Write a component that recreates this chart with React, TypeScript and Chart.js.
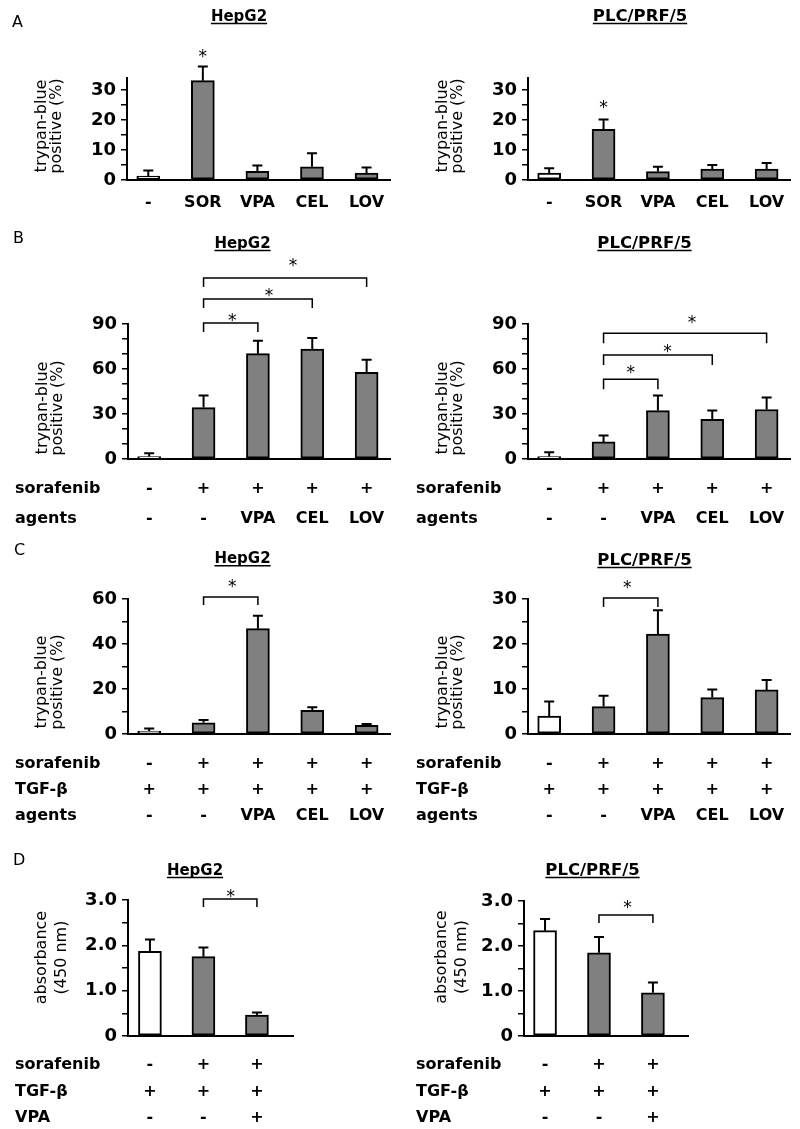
import React, { useEffect, useRef } from 'react';
import { Chart, registerables } from 'chart.js';

Chart.register(...registerables);

// ---------------- data ----------------
const TREATMENTS_A = ['-', 'SOR', 'VPA', 'CEL', 'LOV'];
const A_HEPG2_MEAN = [1.3, 33.1, 2.9, 4.4, 2.3];
const A_HEPG2_SD = [1.9, 4.7, 1.9, 4.5, 1.9];
const A_PLC_MEAN = [2.3, 16.9, 2.8, 3.6, 3.6];
const A_PLC_SD = [1.6, 3.3, 1.6, 1.4, 2.1];
const A_SIGNIFICANT = [1];
const A_Y_LABELS = [0, 10, 20, 30];

const SORAFENIB_5 = ['-', '+', '+', '+', '+'];
const TGFB_5 = ['+', '+', '+', '+', '+'];
const AGENTS_5 = ['-', '-', 'VPA', 'CEL', 'LOV'];

const B_HEPG2_MEAN = [1.6, 34.3, 70.2, 73.3, 57.7];
const B_HEPG2_SD = [2.2, 8.0, 8.6, 7.3, 8.4];
const B_PLC_MEAN = [1.6, 11.4, 32.3, 26.5, 33.0];
const B_PLC_SD = [2.9, 4.2, 10.0, 5.8, 8.0];
const B_HEPG2_BRACKETS = [[1, 4, 120.7], [1, 3, 106.7], [1, 2, 90.7]];
const B_PLC_BRACKETS = [[1, 4, 83.8], [1, 3, 69.3], [1, 2, 53.1]];
const B_Y_LABELS = [0, 30, 60, 90];

const C_HEPG2_MEAN = [1.3, 5.0, 46.8, 10.5, 3.9];
const C_HEPG2_SD = [1.2, 1.2, 5.8, 1.4, 0.6];
const C_PLC_MEAN = [4.0, 6.1, 22.2, 8.1, 9.8];
const C_PLC_SD = [3.2, 2.4, 5.3, 1.8, 2.2];
const C_HEPG2_BRACKETS = [[1, 2, 60.9]];
const C_PLC_BRACKETS = [[1, 2, 30.2]];
const C_HEPG2_Y_LABELS = [0, 20, 40, 60];
const C_PLC_Y_LABELS = [0, 10, 20, 30];

const SORAFENIB_3 = ['-', '+', '+'];
const TGFB_3 = ['+', '+', '+'];
const VPA_3 = ['-', '-', '+'];
const D_HEPG2_MEAN = [1.87, 1.75, 0.46];
const D_HEPG2_SD = [0.26, 0.2, 0.06];
const D_PLC_MEAN = [2.34, 1.85, 0.96];
const D_PLC_SD = [0.26, 0.35, 0.23];
const D_HEPG2_BRACKETS = [[1, 2, 3.02]];
const D_PLC_BRACKETS = [[1, 2, 2.69]];
const D_Y_LABELS = [0, 1, 2, 3];

// ---------------- styling ----------------
const FONT = '"DejaVu Sans", "Liberation Sans", sans-serif';
const GRAY = '#808080';
const TRYPAN = ['trypan-blue', 'positive (%)'];
const ABSORB = ['absorbance', '(450 nm)'];

const fmtInt = (v: number) => String(v);
const fmtDec = (v: number) => (v === 0 ? '0' : v.toFixed(1));

type Row = { name: string; labels: string[]; y: number };
type Panel = {
  left: number; top: number; w: number; h: number;
  area: { l: number; t: number; r: number; b: number };
  xMin: number; xMax: number;
  yMax: number; step: number; yLabels: number[]; fmt: (v: number) => string;
  means: number[]; sd: number[];
  letter?: { text: string; x: number; y: number };
  title: { text: string; x: number; y: number; size: number };
  yTitle: { lines: string[]; xs: number[]; y: number };
  rows: Row[]; rowX: number;
  stars?: number[]; starGap?: number;
  brackets?: number[][]; bGap?: number[]; bDx?: number[]; drop?: number;
};

const panels: Panel[] = [
  {
    left: 0, top: 0, w: 400, h: 210, area: { l: 127, t: 78, r: 390, b: 180 },
    xMin: -0.39, xMax: 4.43, yMax: 34, step: 5, yLabels: A_Y_LABELS, fmt: fmtInt,
    means: A_HEPG2_MEAN, sd: A_HEPG2_SD,
    letter: { text: 'A', x: 12, y: 27 },
    title: { text: 'HepG2', x: 239, y: 21, size: 15 },
    yTitle: { lines: TRYPAN, xs: [42, 57], y: 126 },
    rows: [{ name: '', labels: TREATMENTS_A, y: 207 }], rowX: 15,
    stars: A_SIGNIFICANT, starGap: 15,
  },
  {
    left: 400, top: 0, w: 400, h: 210, area: { l: 128, t: 78, r: 390, b: 180 },
    xMin: -0.39, xMax: 4.43, yMax: 34, step: 5, yLabels: A_Y_LABELS, fmt: fmtInt,
    means: A_PLC_MEAN, sd: A_PLC_SD,
    title: { text: 'PLC/PRF/5', x: 240, y: 21, size: 16.5 },
    yTitle: { lines: TRYPAN, xs: [43, 58], y: 126 },
    rows: [{ name: '', labels: TREATMENTS_A, y: 207 }], rowX: 16,
    stars: A_SIGNIFICANT, starGap: 16,
  },
  {
    left: 0, top: 210, w: 400, h: 330, area: { l: 128, t: 114, r: 390, b: 249 },
    xMin: -0.39, xMax: 4.43, yMax: 90, step: 10, yLabels: B_Y_LABELS, fmt: fmtInt,
    means: B_HEPG2_MEAN, sd: B_HEPG2_SD,
    letter: { text: 'B', x: 13, y: 33 },
    title: { text: 'HepG2', x: 242.5, y: 38, size: 15 },
    yTitle: { lines: TRYPAN, xs: [43, 58], y: 198 },
    rows: [
      { name: 'sorafenib', labels: SORAFENIB_5, y: 282.7 },
      { name: 'agents', labels: AGENTS_5, y: 312.7 },
    ], rowX: 15,
    brackets: B_HEPG2_BRACKETS, bGap: [16.6, 7.6, 7.3], bDx: [8, 11, 1.5], drop: 9,
  },
  {
    left: 400, top: 210, w: 400, h: 330, area: { l: 128, t: 114, r: 390, b: 249 },
    xMin: -0.39, xMax: 4.43, yMax: 90, step: 10, yLabels: B_Y_LABELS, fmt: fmtInt,
    means: B_PLC_MEAN, sd: B_PLC_SD,
    title: { text: 'PLC/PRF/5', x: 244.5, y: 38, size: 16.5 },
    yTitle: { lines: TRYPAN, xs: [43, 58], y: 198 },
    rows: [
      { name: 'sorafenib', labels: SORAFENIB_5, y: 282.7 },
      { name: 'agents', labels: AGENTS_5, y: 312.7 },
    ], rowX: 16,
    brackets: B_PLC_BRACKETS, bGap: [15.3, 8.3, 11], bDx: [7, 9.5, 0], drop: 10,
  },
  {
    left: 0, top: 540, w: 400, h: 310, area: { l: 128, t: 59, r: 390, b: 194 },
    xMin: -0.39, xMax: 4.43, yMax: 60, step: 10, yLabels: C_HEPG2_Y_LABELS, fmt: fmtInt,
    means: C_HEPG2_MEAN, sd: C_HEPG2_SD,
    letter: { text: 'C', x: 14, y: 15 },
    title: { text: 'HepG2', x: 242.5, y: 23.3, size: 15 },
    yTitle: { lines: TRYPAN, xs: [42, 58], y: 142 },
    rows: [
      { name: 'sorafenib', labels: SORAFENIB_5, y: 228.3 },
      { name: 'TGF-β', labels: TGFB_5, y: 254.3 },
      { name: 'agents', labels: AGENTS_5, y: 280 },
    ], rowX: 15,
    brackets: C_HEPG2_BRACKETS, bGap: [15], bDx: [1.5], drop: 8,
  },
  {
    left: 400, top: 540, w: 400, h: 310, area: { l: 128, t: 59, r: 390, b: 194 },
    xMin: -0.39, xMax: 4.43, yMax: 30, step: 5, yLabels: C_PLC_Y_LABELS, fmt: fmtInt,
    means: C_PLC_MEAN, sd: C_PLC_SD,
    title: { text: 'PLC/PRF/5', x: 244.5, y: 25, size: 16.5 },
    yTitle: { lines: TRYPAN, xs: [43, 58], y: 142 },
    rows: [
      { name: 'sorafenib', labels: SORAFENIB_5, y: 228.3 },
      { name: 'TGF-β', labels: TGFB_5, y: 254.3 },
      { name: 'agents', labels: AGENTS_5, y: 280 },
    ], rowX: 16,
    brackets: C_PLC_BRACKETS, bGap: [15], bDx: [-3.5], drop: 9,
  },
  {
    left: 0, top: 850, w: 400, h: 279, area: { l: 128, t: 50, r: 293, b: 186 },
    xMin: -0.41, xMax: 2.674, yMax: 3, step: 0.5, yLabels: D_Y_LABELS, fmt: fmtDec,
    means: D_HEPG2_MEAN, sd: D_HEPG2_SD,
    letter: { text: 'D', x: 13, y: 15 },
    title: { text: 'HepG2', x: 195, y: 25, size: 15 },
    yTitle: { lines: ABSORB, xs: [42, 62], y: 107.5 },
    rows: [
      { name: 'sorafenib', labels: SORAFENIB_3, y: 219.3 },
      { name: 'TGF-β', labels: TGFB_3, y: 246 },
      { name: 'VPA', labels: VPA_3, y: 271.7 },
    ], rowX: 15,
    brackets: D_HEPG2_BRACKETS, bGap: [7], bDx: [0.5], drop: 8,
  },
  {
    left: 400, top: 850, w: 400, h: 279, area: { l: 124, t: 51, r: 288, b: 186 },
    xMin: -0.39, xMax: 2.65, yMax: 3, step: 0.5, yLabels: D_Y_LABELS, fmt: fmtDec,
    means: D_PLC_MEAN, sd: D_PLC_SD,
    title: { text: 'PLC/PRF/5', x: 192.5, y: 25, size: 16.5 },
    yTitle: { lines: ABSORB, xs: [42, 62], y: 107 },
    rows: [
      { name: 'sorafenib', labels: SORAFENIB_3, y: 219.3 },
      { name: 'TGF-β', labels: TGFB_3, y: 246 },
      { name: 'VPA', labels: VPA_3, y: 271.7 },
    ], rowX: 16,
    brackets: D_PLC_BRACKETS, bGap: [11.7], bDx: [1.5], drop: 8,
  },
];

function drawStar(ctx: CanvasRenderingContext2D, x: number, cy: number) {
  const size = 17;
  ctx.font = `${size}px ${FONT}`;
  ctx.textAlign = 'center';
  ctx.textBaseline = 'alphabetic';
  ctx.fillText('*', x, cy + 0.59 * size);
}

function makePlugin(p: Panel) {
  return {
    id: 'decor',
    afterDatasetsDraw(chart: any) {
      const ctx: CanvasRenderingContext2D = chart.ctx;
      const xs = chart.scales.x;
      const ys = chart.scales.y;
      ctx.save();
      ctx.strokeStyle = '#000';
      ctx.fillStyle = '#000';
      // error bars (upper only)
      ctx.lineWidth = 2;
      p.means.forEach((m, i) => {
        const x = xs.getPixelForValue(i);
        const y0 = ys.getPixelForValue(m);
        const y1 = ys.getPixelForValue(m + p.sd[i]);
        ctx.beginPath();
        ctx.moveTo(x, y0);
        ctx.lineTo(x, y1);
        ctx.moveTo(x - 5, y1);
        ctx.lineTo(x + 5, y1);
        ctx.stroke();
      });
      // stars over single bars
      (p.stars || []).forEach((i) => {
        const x = xs.getPixelForValue(i);
        const yc = ys.getPixelForValue(p.means[i] + p.sd[i]) - (p.starGap || 15);
        drawStar(ctx, x, yc);
      });
      // brackets
      ctx.lineWidth = 1.5;
      (p.brackets || []).forEach((b, k) => {
        const xa = xs.getPixelForValue(b[0]);
        const xb = xs.getPixelForValue(b[1]);
        const y = ys.getPixelForValue(b[2]);
        const d = p.drop || 9;
        ctx.beginPath();
        ctx.moveTo(xa, y + d);
        ctx.lineTo(xa, y);
        ctx.lineTo(xb, y);
        ctx.lineTo(xb, y + d);
        ctx.stroke();
        drawStar(ctx, (xa + xb) / 2 + (p.bDx ? p.bDx[k] : 0), y - (p.bGap ? p.bGap[k] : 14));
      });
      ctx.restore();
    },
    afterDraw(chart: any) {
      const ctx: CanvasRenderingContext2D = chart.ctx;
      const xs = chart.scales.x;
      ctx.save();
      ctx.fillStyle = '#000';
      ctx.strokeStyle = '#000';
      // panel letter
      if (p.letter) {
        ctx.font = `16px ${FONT}`;
        ctx.textAlign = 'left';
        ctx.textBaseline = 'alphabetic';
        ctx.fillText(p.letter.text, p.letter.x, p.letter.y);
      }
      // title with underline
      ctx.font = `bold ${p.title.size}px ${FONT}`;
      ctx.textAlign = 'center';
      ctx.textBaseline = 'alphabetic';
      ctx.fillText(p.title.text, p.title.x, p.title.y);
      const tw = ctx.measureText(p.title.text).width;
      ctx.lineWidth = 1.5;
      ctx.beginPath();
      ctx.moveTo(p.title.x - tw / 2, p.title.y + 2.5);
      ctx.lineTo(p.title.x + tw / 2, p.title.y + 2.5);
      ctx.stroke();
      // y-axis title (rotated, two lines)
      ctx.font = `16px ${FONT}`;
      p.yTitle.lines.forEach((line, i) => {
        ctx.save();
        ctx.translate(p.yTitle.xs[i], p.yTitle.y);
        ctx.rotate(-Math.PI / 2);
        ctx.textAlign = 'center';
        ctx.textBaseline = 'middle';
        ctx.fillText(line, 0, 0);
        ctx.restore();
      });
      // condition rows
      ctx.font = `bold 16px ${FONT}`;
      ctx.textBaseline = 'alphabetic';
      p.rows.forEach((row) => {
        if (row.name) {
          ctx.textAlign = 'left';
          ctx.fillText(row.name, p.rowX, row.y);
        }
        ctx.textAlign = 'center';
        row.labels.forEach((lab, i) => {
          ctx.fillText(lab, xs.getPixelForValue(i), row.y);
        });
      });
      ctx.restore();
    },
  };
}

function buildConfig(p: Panel): any {
  return {
    type: 'bar',
    data: {
      datasets: [
        {
          data: p.means.map((m, i) => ({ x: i, y: m })),
          backgroundColor: (c: any) => (c.dataIndex === 0 ? '#ffffff' : GRAY),
          borderColor: '#000',
          borderWidth: 2,
          borderSkipped: false,
          barThickness: 23,
        },
      ],
    },
    options: {
      animation: false,
      responsive: false,
      devicePixelRatio: 1,
      layout: {
        padding: { left: 0, top: p.area.t, right: p.w - p.area.r, bottom: p.h - p.area.b },
      },
      plugins: {
        legend: { display: false },
        tooltip: { enabled: false },
        title: { display: false },
      },
      scales: {
        x: {
          type: 'linear',
          offset: false,
          min: p.xMin,
          max: p.xMax,
          ticks: { display: false },
          grid: { display: false, offset: false },
          border: { display: true, color: '#000', width: 2 },
          afterFit: (s: any) => {
            s.height = 0;
          },
        },
        y: {
          type: 'linear',
          min: 0,
          max: p.yMax,
          ticks: {
            stepSize: p.step,
            includeBounds: false,
            autoSkip: false,
            color: '#000',
            padding: 5,
            font: { family: FONT, size: 18, weight: 'bold' },
            callback: (v: number) => (p.yLabels.some((l) => Math.abs(l - v) < 1e-9) ? p.fmt(v) : ''),
          },
          grid: {
            display: true,
            drawOnChartArea: false,
            drawTicks: true,
            tickLength: 6,
            color: '#000',
            lineWidth: 1.5,
          },
          border: { display: true, color: '#000', width: 2 },
          afterFit: (s: any) => {
            s.width = p.area.l;
          },
        },
      },
    },
    plugins: [makePlugin(p)],
  };
}

function PanelChart({ p }: { p: Panel }) {
  const ref = useRef<HTMLCanvasElement>(null);
  useEffect(() => {
    const chart = new Chart(ref.current as HTMLCanvasElement, buildConfig(p));
    return () => chart.destroy();
  }, [p]);
  return (
    <canvas
      ref={ref}
      width={p.w}
      height={p.h}
      style={{ position: 'absolute', left: p.left, top: p.top, width: p.w, height: p.h }}
    />
  );
}

export default function App() {
  return (
    <div style={{ position: 'absolute', left: 0, top: 0, width: 800, height: 1129, background: '#fff' }}>
      {panels.map((p, i) => (
        <PanelChart key={i} p={p} />
      ))}
    </div>
  );
}
